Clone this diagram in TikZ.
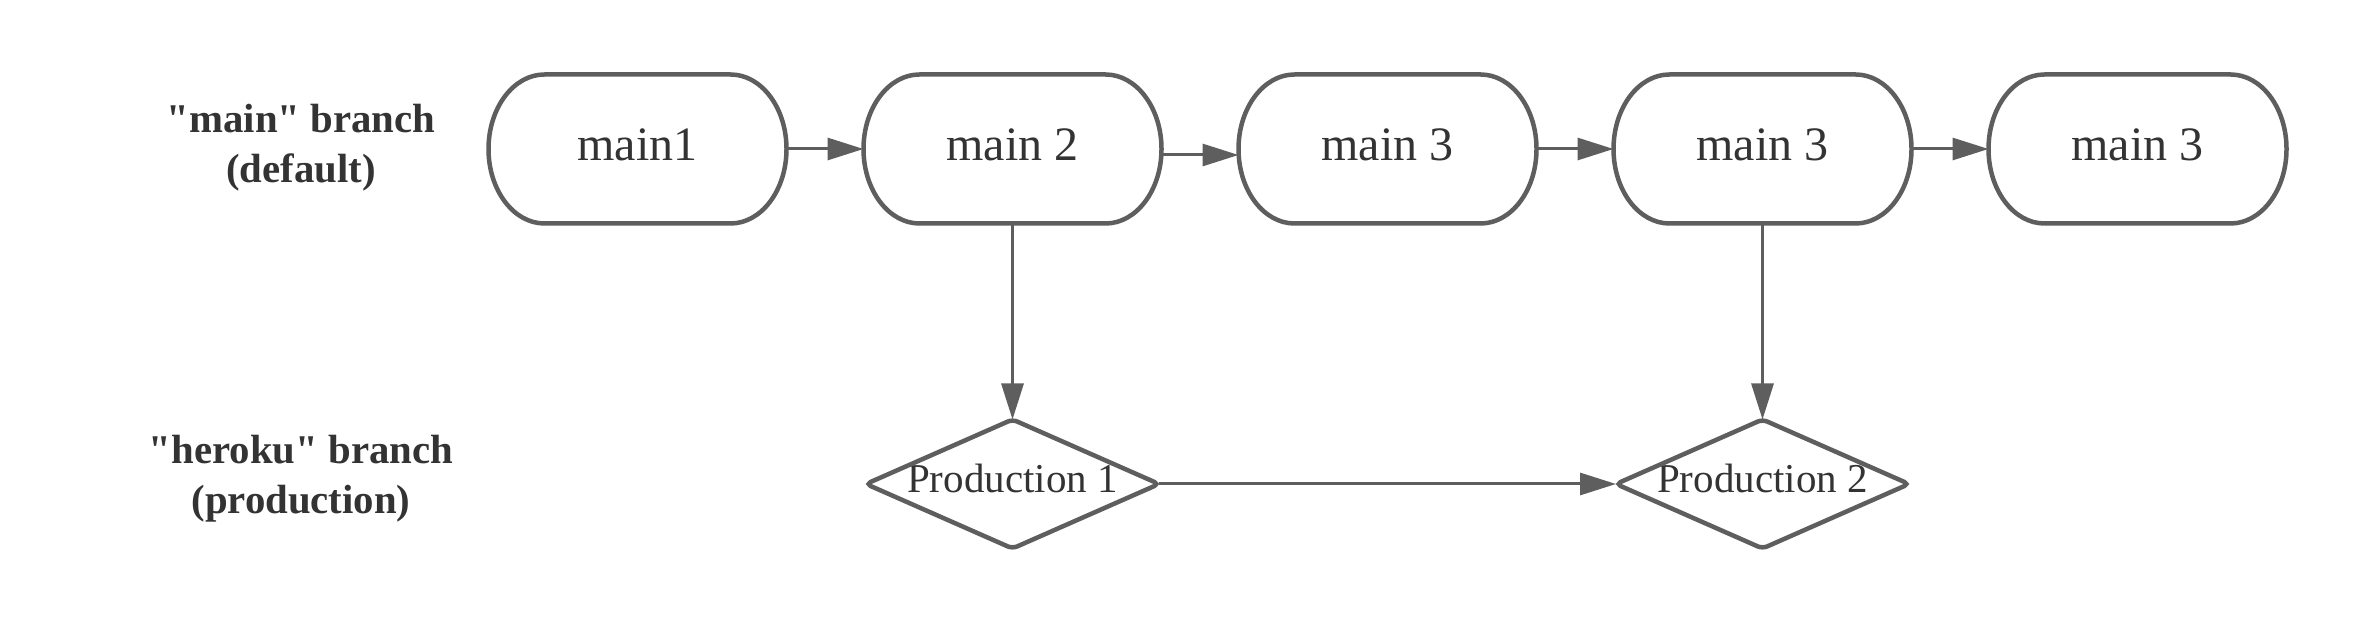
\documentclass[tikz,border=0pt]{standalone}
\usepackage{fontspec}
\setmainfont{Liberation Serif}[Ligatures=TeXOff]
\usetikzlibrary{arrows.meta,calc}
\definecolor{stroke}{HTML}{5E5E5E}
\definecolor{txt}{HTML}{333333}
\begin{document}
\begin{tikzpicture}[x=1pt,y=1pt,
  commit/.style={minimum width=298pt, minimum height=149pt, inner sep=0pt, outer sep=0pt, text=txt,
    font=\fontsize{48}{58}\selectfont, text height=35pt, text depth=11.6pt},
  release/.style={minimum width=293pt, minimum height=129pt, inner sep=0pt, outer sep=0pt, text=txt,
    font=\fontsize{41}{49}\selectfont, text height=30pt, text depth=12pt},
  lane/.style={text=txt, font=\fontsize{40.8}{50}\selectfont\bfseries, align=center, inner sep=0pt},
  outline/.style={draw=stroke, line width=4.5pt},
  link/.style={draw=stroke, line width=3pt, -{Triangle[length=36pt,width=22pt]}},
]
\useasboundingbox[fill=white] (0,0) rectangle (2363,628);

\node[commit] (m1) at (637.5,479) {main1};
\node[commit] (m2) at (1012.5,479) {main 2};
\node[commit] (m3) at (1387.5,479) {main 3};
\node[commit] (m4) at (1762.5,479) {main 3};
\node[commit] (m5) at (2137.5,479) {main 3};

\node[release] (p1) at (1012.5,144) {Production 1};
\node[release] (p2) at (1762.5,144) {Production 2};

\node[lane] (l1) at (301,480) {"main" branch\\(default)};
\node[lane] (l2) at (301,149) {"heroku" branch\\(production)};

\foreach \n in {m1,m2,m3,m4,m5}
  \draw[outline] ($(\n.center)+(-93,74.5)$) -- ++(186,0)
    arc[start angle=90, end angle=-90, x radius=56, y radius=74.5]
    -- ++(-186,0)
    arc[start angle=270, end angle=90, x radius=56, y radius=74.5] -- cycle;

\foreach \n in {p1,p2}
  \draw[outline, rounded corners=5pt] ($(\n.north)!0.5!(\n.east)$) -- (\n.east) -- (\n.south)
    -- (\n.west) -- (\n.north) -- cycle;

\draw[link] (m1.east) -- (m2.west);
\draw[link] ([yshift=-6pt]m2.east) -- ([yshift=-6pt]m3.west);
\draw[link] (m3.east) -- (m4.west);
\draw[link] (m4.east) -- (m5.west);
\draw[link] (m2.south) -- (p1.north);
\draw[link] (m4.south) -- (p2.north);
\draw[link] (p1.east) -- (p2.west);
\end{tikzpicture}
\end{document}
